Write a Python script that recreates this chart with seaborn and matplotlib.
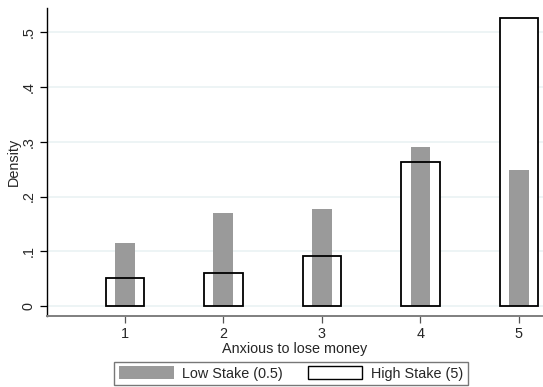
import numpy as np
import pandas as pd
import matplotlib
matplotlib.use("Agg")
import matplotlib.pyplot as plt
import seaborn as sns
from matplotlib.patches import Patch

# values
levels = [1, 2, 3, 4, 5]
low_stake = [0.115, 0.170, 0.177, 0.290, 0.248]
high_stake = [0.052, 0.060, 0.091, 0.263, 0.526]
yticks = [0, 0.1, 0.2, 0.3, 0.4, 0.5]
ytick_labels = ["0", ".1", ".2", ".3", ".4", ".5"]

sns.set_style("white")
plt.rcParams['font.family'] = ['Liberation Sans', 'DejaVu Sans']

df = pd.DataFrame({'level': levels, 'low': low_stake, 'high': high_stake})

fig = plt.figure(figsize=(5.43, 3.87), dpi=100)
ax = fig.add_axes([47 / 543, 1 - 316 / 387, 496 / 543, 308 / 387])

# white fill of the high stake boxes (covers the grid)
sns.barplot(ax=ax, data=df, x='level', y='high', native_scale=True,
            width=0.39, color='white', saturation=1, edgecolor='none',
            linewidth=0, zorder=2)
# low stake grey bars
sns.barplot(ax=ax, data=df, x='level', y='low', native_scale=True,
            width=0.2, color='#9a9a9a', saturation=1, linewidth=0, zorder=3)
# high stake outlines on top
sns.barplot(ax=ax, data=df, x='level', y='high', native_scale=True,
            width=0.39, fill=False, edgecolor='black', linewidth=1.3,
            zorder=4)

fs = 10.4
ax.set_xlim(0.21, 5.245)
ax.set_ylim(-0.018, 0.544)
ax.set_xticks(levels)
ax.set_xticklabels([str(v) for v in levels], fontsize=fs)
ax.set_yticks(yticks)
ax.set_yticklabels(ytick_labels, fontsize=fs, rotation=90, va='center')
ax.yaxis.grid(True, color='#eaf2f3', linewidth=1.2, zorder=0)
ax.set_axisbelow(True)
ax.tick_params(axis='both', direction='out', length=5, width=0.9,
               color='black', left=True, bottom=True, pad=3)
ax.tick_params(axis='x', color='#555555')

ax.set_xlabel('Anxious to lose money', fontsize=fs, labelpad=1)
ax.set_ylabel('Density', fontsize=fs, labelpad=1)

for side in ['top', 'right']:
    ax.spines[side].set_visible(False)
ax.spines['left'].set_color('black')
ax.spines['left'].set_linewidth(1.0)
ax.spines['bottom'].set_color('#7f7f7f')
ax.spines['bottom'].set_linewidth(1.4)

handles = [Patch(facecolor='#9a9a9a', edgecolor='none'),
           Patch(facecolor='white', edgecolor='black', linewidth=1.0)]
leg = fig.legend(handles, ['Low Stake (0.5)', 'High Stake (5)'],
                 loc='upper center', bbox_to_anchor=(0.536, 0.065), ncol=2,
                 frameon=True, fancybox=False, fontsize=fs,
                 handlelength=3.8, handleheight=1.0, columnspacing=1.7,
                 borderpad=0.3, handletextpad=0.6, borderaxespad=0)
leg.get_frame().set_edgecolor('#555555')
leg.get_frame().set_linewidth(1.0)

fig.savefig('out.png', dpi=100)
